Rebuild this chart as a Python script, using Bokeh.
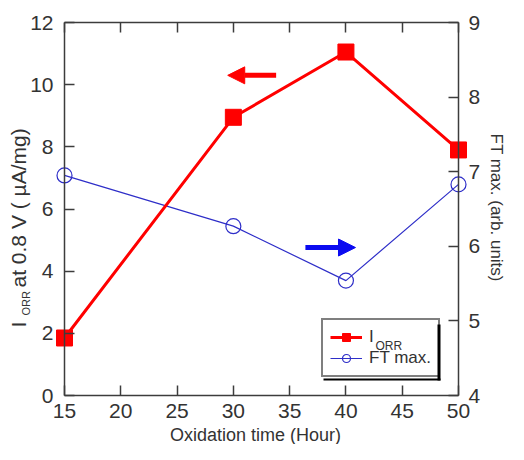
import math
from bokeh.plotting import figure
from bokeh.models import (Range1d, LinearAxis, SingleIntervalTicker, Legend, LegendItem,
                          Label, Arrow, NormalHead, CustomJSTickFormatter, BoxAnnotation)
from bokeh.embed import file_html
from bokeh.resources import INLINE

# ---- data ----
oxidation_hours = [15, 30, 40, 50]
i_orr = [1.85, 8.95, 11.05, 7.9]          # left axis, µA/mg
ft_max = [6.95, 6.27, 5.54, 6.83]          # right axis, arb. units

x_limits = (15, 50)
left_limits = (0, 12)
right_limits = (4, 9)
x_tick_step = 5
left_tick_step = 2
right_tick_step = 1

# ---- layout (pixels) ----
W, H = 508, 444
FL, FR, FT, FB = 64, 458, 22, 395   # plotting box inside the canvas

# ---- style ----
FONT = "Liberation Sans"
AX = "#3c3c3c"
TXT = "#333333"
RED = "#ff0000"
BLUE = "#2e2ec8"
ARROW_BLUE = "#0b0bf0"

xs = (FR - FL) / (x_limits[1] - x_limits[0])
ys = (FB - FT) / (left_limits[1] - left_limits[0])
rs = (FB - FT) / (right_limits[1] - right_limits[0])

p = figure(width=W, height=H, output_backend="svg", toolbar_location=None,
           x_range=Range1d(x_limits[0] - FL / xs, x_limits[1] + (W - FR) / xs),
           y_range=Range1d(left_limits[0] - (H - FB) / ys, left_limits[1] + FT / ys),
           min_border=0, min_border_left=0, min_border_right=0,
           min_border_top=0, min_border_bottom=0,
           background_fill_color="white", border_fill_color="white")
p.extra_y_ranges = {"ft": Range1d(right_limits[0] - (H - FB) / rs, right_limits[1] + FT / rs)}
p.xgrid.grid_line_color = None
p.ygrid.grid_line_color = None
p.outline_line_color = None

def style_axis(ax, standoff):
    ax.axis_line_color = AX
    ax.axis_line_width = 1.5
    ax.major_tick_line_color = AX
    ax.major_tick_line_width = 1.5
    ax.major_tick_in = 10
    ax.major_tick_out = 0
    ax.minor_tick_line_color = None
    ax.major_label_text_font = FONT
    ax.major_label_text_font_size = "21px"
    ax.major_label_text_color = TXT
    ax.major_label_standoff = standoff

xa = p.xaxis[0]
xa.ticker = SingleIntervalTicker(interval=x_tick_step)
xa.fixed_location = left_limits[0]
xa.bounds = x_limits
style_axis(xa, 4)

ya = p.yaxis[0]
ya.ticker = SingleIntervalTicker(interval=left_tick_step)
ya.fixed_location = x_limits[0]
ya.bounds = left_limits
style_axis(ya, 7)

right_axis = LinearAxis(y_range_name="ft", ticker=SingleIntervalTicker(interval=right_tick_step),
                        fixed_location=x_limits[1], bounds=right_limits)
style_axis(right_axis, 6)
p.add_layout(right_axis, "right")

top_axis = LinearAxis(ticker=SingleIntervalTicker(interval=x_tick_step),
                      formatter=CustomJSTickFormatter(code="return ''"),
                      fixed_location=left_limits[1], bounds=x_limits)
style_axis(top_axis, 0)
top_axis.major_label_text_font_size = "1px"
p.add_layout(top_axis, "above")

# ---- series ----
bl = p.line(oxidation_hours, ft_max, y_range_name="ft", line_color=BLUE, line_width=1.2)
bc = p.scatter(oxidation_hours, ft_max, y_range_name="ft", marker="circle", size=15,
               line_color=BLUE, line_width=1.2, fill_color=None)
rl = p.line(oxidation_hours, i_orr, line_color=RED, line_width=3)
rs_ = p.scatter(oxidation_hours, i_orr, marker="square", size=16,
                line_color=RED, fill_color=RED)

# ---- arrows (annotations, data units of left axis) ----
p.add_layout(Arrow(end=NormalHead(size=17, fill_color=RED, line_color=RED),
                   x_start=33.8, y_start=10.3, x_end=29.5, y_end=10.3,
                   line_color=RED, line_width=5))
p.add_layout(Arrow(end=NormalHead(size=17, fill_color=ARROW_BLUE, line_color=ARROW_BLUE),
                   x_start=36.4, y_start=4.76, x_end=40.85, y_end=4.76,
                   line_color=ARROW_BLUE, line_width=5))

# ---- texts (screen px, y measured from the canvas top via H - y) ----
def lab(text, x, y_top, size, angle=0.0, align="left"):
    p.add_layout(Label(x=x, y=H - y_top, x_units="screen", y_units="screen", text=text,
                       angle=angle, text_font=FONT, text_font_size=size, text_color=TXT,
                       text_align=align, text_baseline="middle"))

lab("ORR", 375, 345, "12px")            # subscript of the legend entry
lab("I", 18, 327, "21px", math.pi / 2)
lab("ORR", 25, 315, "11px", math.pi / 2)
lab("at 0.8 V ( µA/mg)", 18, 287, "21px", math.pi / 2)
lab("FT max. (arb. units)", 496, 133, "17px", -math.pi / 2)
lab("Oxidation time (Hour)", 255, 434, "18px", 0.0, "center")

# ---- legend with a small drop shadow ----
def strip(l, r, t, b):
    p.add_layout(BoxAnnotation(left=l, right=r, top=H - t, bottom=H - b,
                               left_units="screen", right_units="screen",
                               top_units="screen", bottom_units="screen",
                               fill_color="black", fill_alpha=1, line_color=None))

strip(437, 440, 324, 380)
strip(323, 440, 378, 380)

legend = Legend(items=[LegendItem(label="I", renderers=[rl, rs_]),
                       LegendItem(label="FT max.", renderers=[bl, bc])],
                location=(321, H - 377), orientation="vertical",
                border_line_color="black", border_line_width=2,
                background_fill_alpha=0,
                padding=7, spacing=1, margin=0,
                glyph_width=32, glyph_height=20, label_height=20, label_standoff=7,
                label_text_font=FONT, label_text_font_size="17px", label_text_color=TXT)
p.add_layout(legend)

open("out.html", "w").write(file_html(p, INLINE))
